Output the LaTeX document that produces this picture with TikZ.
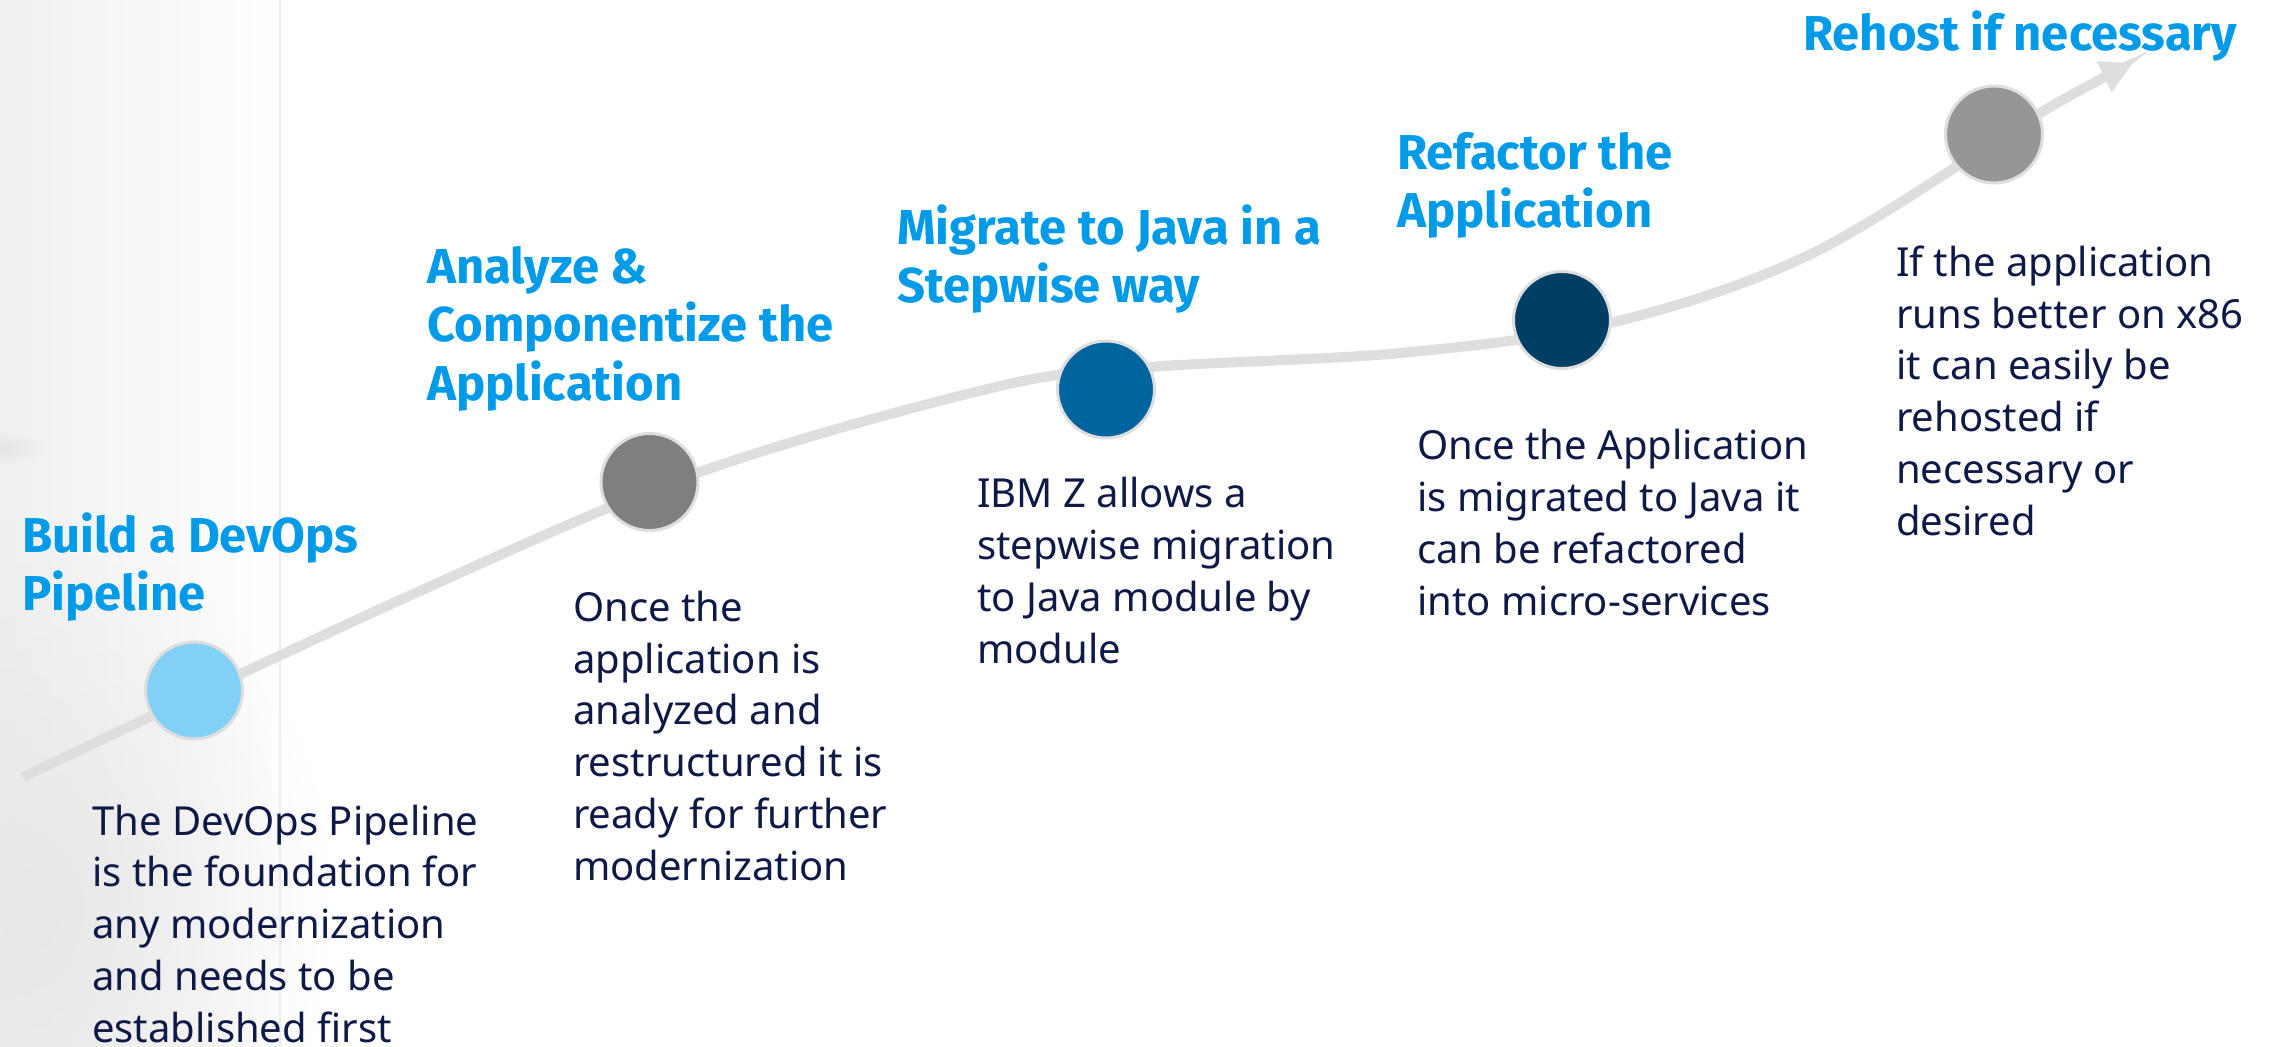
\documentclass[tikz,border=0pt]{standalone}
\usepackage{fontspec}
\setmainfont{Noto Sans}
\newfontfamily\headfont{Fira Sans}
\usetikzlibrary{arrows.meta,fadings}

\definecolor{titleblue}{RGB}{0,155,232}
\definecolor{bodynavy}{RGB}{14,25,72}
\definecolor{trackgray}{RGB}{222,222,222}
\definecolor{ringgray}{RGB}{222,222,222}
\definecolor{stageone}{RGB}{130,208,245}
\definecolor{stagetwo}{RGB}{127,127,127}
\definecolor{stagethree}{RGB}{0,101,158}
\definecolor{stagefour}{RGB}{0,62,102}
\definecolor{stagefive}{RGB}{150,150,150}

\tikzfading[name=softblob, inner color=transparent!0, outer color=transparent!100]

% multi-line nodes are anchored at the baseline of their last line
\tikzset{
  stage/.style={circle, draw=ringgray, line width=3pt, minimum size=97pt, inner sep=0pt},
  steptitle/.style={anchor=base west, align=left, inner sep=0pt, text=titleblue,
    font=\headfont\fontsize{49}{58.5}\selectfont\bfseries},
  stepbody/.style={anchor=base west, align=left, inner sep=0pt, text=bodynavy,
    font=\fontsize{40}{51.7}\selectfont},
  track/.style={draw=trackgray, line width=10pt}
}

\begin{document}
\begin{tikzpicture}[x=1pt, y=-1pt]
  % canvas
  \useasboundingbox (0,0) rectangle (2271,1047);
  \fill[white] (0,0) rectangle (2271,1047);

  % faded grey texture on the left edge
  \shade[left color=black!6, right color=white] (0,0) rectangle (280,1047);
  \fill[black!9, path fading=softblob] (-260,520) rectangle (330,1300);
  \fill[black!10, path fading=softblob] (-40,432) rectangle (45,464);
  \draw[black!7, line width=1.5pt] (280,0) -- (280,1047);

  % track through the stages
  \coordinate (t0) at (23,777);
  \coordinate (t1) at (400,600);
  \coordinate (t2) at (700,472);
  \coordinate (t3) at (1000,386);
  \coordinate (t4) at (1150,367);
  \coordinate (t5) at (1400,353);
  \coordinate (t6) at (1610,323);
  \coordinate (t7) at (1813,253);
  \coordinate (t8) at (2040,113);
  \coordinate (tip) at (2133,63);
  \draw[track, -{Triangle[length=32pt,width=32pt]}]
    plot[smooth, tension=0.55] coordinates {(t0) (t1) (t2) (t3) (t4) (t5) (t6) (t7) (t8) (tip)};

  % stage markers
  \node[stage, fill=stageone]   (c1) at (194,690.5) {};
  \node[stage, fill=stagetwo]   (c2) at (649.5,482) {};
  \node[stage, fill=stagethree] (c3) at (1106,389.5) {};
  \node[stage, fill=stagefour]  (c4) at (1562,320) {};
  \node[stage, fill=stagefive]  (c5) at (1994,134.5) {};

  % stage titles
  \node[steptitle] (h1) at (22,610.5)  {Build a DevOps\\Pipeline};
  \node[steptitle] (h2) at (427,400)   {Analyze \&\\Componentize the\\Application};
  \node[steptitle] (h3) at (897,302.5) {Migrate to Java in a\\Stepwise way};
  \node[steptitle] (h4) at (1397,227.5){Refactor the\\Application};
  \node[steptitle] (h5) at (1803,50)   {Rehost if necessary};

  % stage descriptions
  \node[stepbody] (b1) at (92,1042)  {The DevOps Pipeline\\is the foundation for\\any modernization\\and needs to be\\established first};
  \node[stepbody] (b2) at (573,880)  {Once the\\application is\\analyzed and\\restructured it is\\ready for further\\modernization};
  \node[stepbody] (b3) at (977,663)  {IBM Z allows a\\stepwise migration\\to Java module by\\module};
  \node[stepbody] (b4) at (1417,615) {Once the Application\\is migrated to Java it\\can be refactored\\into micro-services};
  \node[stepbody] (b5) at (1896,535) {If the application\\runs better on x86\\it can easily be\\rehosted if\\necessary or\\desired};
\end{tikzpicture}
\end{document}
